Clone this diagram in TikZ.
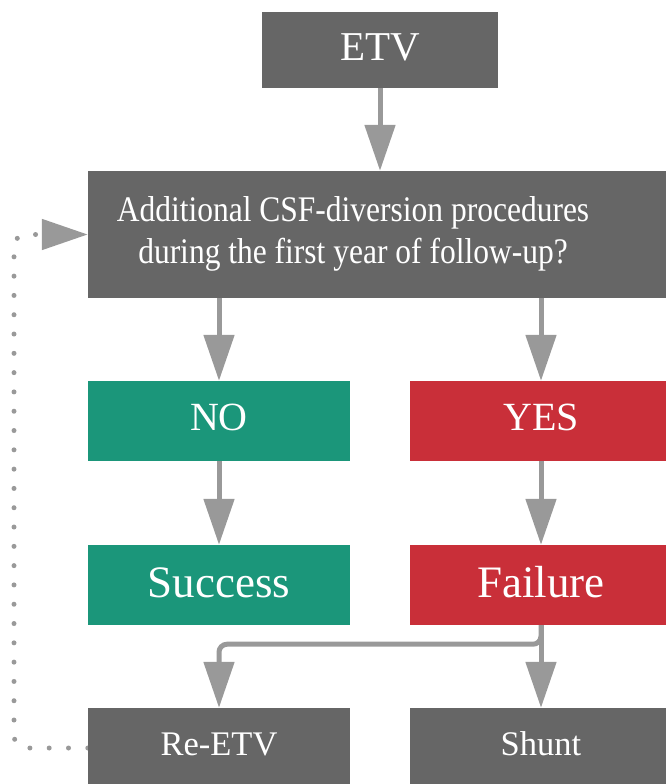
\documentclass[tikz,border=0pt]{standalone}
\usepackage{fontspec}
\setmainfont{Liberation Serif}
\newfontfamily\qfont{Liberation Serif}[FakeStretch=0.875]
\usetikzlibrary{arrows.meta,backgrounds}
\definecolor{boxgray}{HTML}{666666}
\definecolor{arrgray}{HTML}{999999}
\definecolor{okgreen}{HTML}{1B967A}
\definecolor{badred}{HTML}{C92F39}
\begin{document}
\begin{tikzpicture}[x=1pt,y=1pt,
  box/.style={rectangle, inner sep=0pt, text=white, align=center, minimum width=262pt, minimum height=80pt, text depth=0pt},
  gbox/.style={box, fill=boxgray},
  grbox/.style={box, fill=okgreen},
  rdbox/.style={box, fill=badred},
  etvtxt/.style={font=\fontsize{41}{48}\selectfont, text height=22pt},
  bigtxt/.style={font=\fontsize{40}{48}\selectfont, text height=18pt},
  hugetxt/.style={font=\fontsize{45}{52}\selectfont, text height=24pt},
  smalltxt/.style={font=\fontsize{34.5}{40}\selectfont, text height=14pt},
  conn/.style={draw=arrgray, line width=5pt, -{Triangle[width=30pt,length=46pt]}},
  dotconn/.style={draw=arrgray, line width=5pt, line cap=round, dash pattern=on 0pt off 19.3pt, -{Triangle[width=30pt,length=46pt]}}
]
\useasboundingbox (0,0) rectangle (665,-784);
\node[gbox, etvtxt, minimum width=236pt, minimum height=76pt] (etv) at (380,-50) {ETV};
\node[gbox, minimum width=584pt, minimum height=127pt] (q) at (380,-234.5) {};
\node[text=white, align=center, inner sep=0pt, font=\qfont\fontsize{36}{42}\selectfont] (qtext) at (353,-233.5) {Additional CSF-diversion procedures\\during the first year of follow-up?};
\node[grbox, bigtxt] (no) at (219,-421) {NO};
\node[rdbox, bigtxt] (yes) at (541,-421) {YES};
\node[grbox, hugetxt] (succ) at (219,-585) {Success};
\node[rdbox, hugetxt] (fail) at (541,-585) {Failure};
\node[gbox, smalltxt] (reetv) at (219,-748) {Re-ETV};
\node[gbox, smalltxt] (shunt) at (541,-748) {Shunt};
\begin{scope}[on background layer]
\draw[conn] (etv) -- (q);
\draw[conn] (q.south -| no.north) -- (no.north);
\draw[conn] (q.south -| yes.north) -- (yes.north);
\draw[conn] (no) -- (succ);
\draw[conn] (yes) -- (fail);
\draw[conn] (fail) -- (shunt);
\draw[conn, rounded corners=8pt] (fail.south) -- ++(0,-19) -| (reetv.north);
\draw[dotconn, rounded corners=12pt] (reetv.west) -- (14,-748) -- (14,-234.5) -- (q.west);
\end{scope}
\end{tikzpicture}
\end{document}
